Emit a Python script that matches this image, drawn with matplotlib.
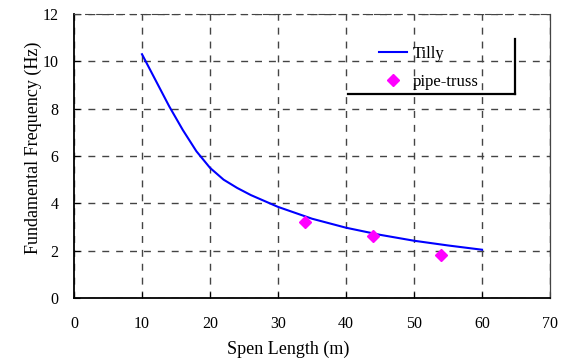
import matplotlib.pyplot as plt
from matplotlib.lines import Line2D

plt.rcParams['font.family'] = ['Liberation Serif', 'DejaVu Serif']

# Tilly curve
tilly_x = [10, 12, 14, 16, 18, 20, 22, 24, 26, 28, 30, 35, 40, 45, 50, 55, 60]
tilly_y = [10.3, 9.2, 8.1, 7.1, 6.2, 5.5, 5.0, 4.65, 4.35, 4.1, 3.85, 3.35, 2.97, 2.67, 2.42, 2.22, 2.04]

# pipe-truss points
truss_x = [34, 44, 54]
truss_y = [3.2, 2.6, 1.8]

xticks = [0, 10, 20, 30, 40, 50, 60, 70]
yticks = [0, 2, 4, 6, 8, 10, 12]

fig = plt.figure(figsize=(5.69, 3.6), dpi=100)
ax = fig.add_axes([74/569, 1-298/360, 476/569, 284/360])

ax.plot(tilly_x, tilly_y, color='#0000ff', lw=1.5, label='Tilly')
ax.plot(truss_x, truss_y, ls='none', marker='D', color='#ff00ff', ms=6, label='pipe-truss')

ax.set_xlim(0, 70)
ax.set_ylim(0, 12)
ax.set_xticks(xticks)
ax.set_yticks(yticks)
ax.tick_params(direction='in', length=4, labelsize=11.5, colors='black')
ax.tick_params(axis='x', pad=13)
ax.tick_params(axis='y', pad=11)
ax.grid(True, color='#444444', ls=(0, (5, 5)), lw=1)

for s in ['left', 'bottom']:
    ax.spines[s].set_linewidth(1.3)
ax.spines['top'].set_linestyle((0, (5, 5)))
ax.spines['top'].set_color('#444444')
ax.spines['right'].set_color('#444444')
ax.spines['right'].set_linewidth(0.9)

ax.set_xlabel('Spen Length (m)', fontsize=13)
ax.set_ylabel('Fundamental Frequency (Hz)', fontsize=13)
ax.xaxis.set_label_coords(0.45, -0.15)
ax.yaxis.set_label_coords(-0.068, 0.53)

leg = ax.legend(frameon=False, loc='center', bbox_to_anchor=(0.745, 0.81),
                fontsize=12, handlelength=1.7, labelspacing=0.75, handletextpad=0.3)

# legend "shadow" border: right and bottom edges only
ax.add_line(Line2D([0.926, 0.926], [0.912, 0.718], transform=ax.transAxes,
                   color='black', lw=1.6, clip_on=False))
ax.add_line(Line2D([0.576, 0.926], [0.718, 0.718], transform=ax.transAxes,
                   color='black', lw=1.6, clip_on=False))

fig.savefig('out.png', dpi=100)
